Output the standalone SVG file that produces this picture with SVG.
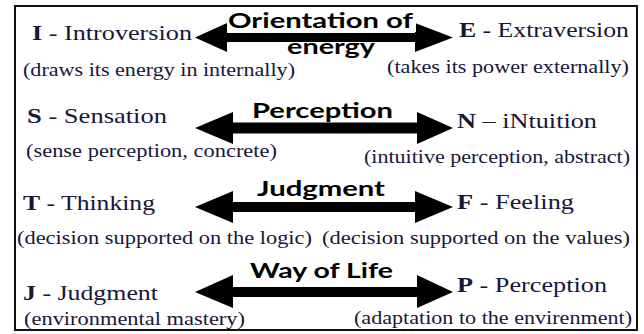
<svg xmlns="http://www.w3.org/2000/svg" width="644" height="334" viewBox="0 0 644 334">
  <style>
    .main { font-family: "Liberation Serif", "Times New Roman", serif; font-size: 22px; fill: #17173a; }
    .sub { font-family: "Liberation Serif", "Times New Roman", serif; font-size: 18px; fill: #17173a; }
    .ini { font-weight: bold; }
    .lbl { font-family: Lato, "Open Sans", "Liberation Sans", sans-serif; font-weight: 700; font-size: 21px; fill: #000; }
    .arrow { fill: #000; }
  </style>
  <rect x="0" y="0" width="644" height="334" fill="#fff"/>
  <rect x="15" y="6" width="622" height="324" fill="#fff" stroke="#111" stroke-width="2"/>

  <!-- double-headed connectors with their labels -->
  <g id="connectors">
    <polygon class="arrow" points="195,37.5 227,23 227,33 415,33 415,23 453,37.5 415,52 415,42 227,42 227,52"/>
    <rect x="227" y="12" width="189" height="20" fill="#fff"/>
    <text class="lbl" x="228" y="28" textLength="185" lengthAdjust="spacingAndGlyphs">Orientation of</text>
    <text class="lbl" x="287" y="54" textLength="88" lengthAdjust="spacingAndGlyphs">energy</text>

    <polygon class="arrow" points="195,128 233,112 233,122.5 417,122.5 417,112 453,128 417,144 417,133.5 233,133.5 233,144"/>
    <text class="lbl" x="252" y="118" textLength="141" lengthAdjust="spacingAndGlyphs">Perception</text>

    <polygon class="arrow" points="195,207 233,191 233,202 415,202 415,191 453,207 415,223 415,212 233,212 233,223"/>
    <text class="lbl" x="257" y="196" textLength="128" lengthAdjust="spacingAndGlyphs">Judgment</text>

    <polygon class="arrow" points="195,292 233,275 233,287 417,287 417,275 453,292 417,308 417,297 233,297 233,308"/>
    <text class="lbl" x="250" y="278" textLength="143" lengthAdjust="spacingAndGlyphs">Way of Life</text>
  </g>

  <g id="introversion">
    <text class="main" x="32" y="40" textLength="160" lengthAdjust="spacingAndGlyphs"><tspan class="ini">I</tspan> - Introversion</text>
    <text class="sub" x="23" y="76" textLength="272" lengthAdjust="spacingAndGlyphs">(draws its energy in internally)</text>
  </g>
  <g id="extraversion">
    <text class="main" x="459" y="37" textLength="170" lengthAdjust="spacingAndGlyphs"><tspan class="ini">E</tspan> - Extraversion</text>
    <text class="sub" x="387" y="73" textLength="242" lengthAdjust="spacingAndGlyphs">(takes its power externally)</text>
  </g>
  <g id="sensation">
    <text class="main" x="27" y="123" textLength="140" lengthAdjust="spacingAndGlyphs"><tspan class="ini">S</tspan> - Sensation</text>
    <text class="sub" x="26" y="157" textLength="251" lengthAdjust="spacingAndGlyphs">(sense perception, concrete)</text>
  </g>
  <g id="intuition">
    <text class="main" x="457" y="128" textLength="140" lengthAdjust="spacingAndGlyphs"><tspan class="ini">N</tspan> – iNtuition</text>
    <text class="sub" x="364" y="163" textLength="266" lengthAdjust="spacingAndGlyphs">(intuitive perception, abstract)</text>
  </g>
  <g id="thinking">
    <text class="main" x="23" y="210" textLength="132" lengthAdjust="spacingAndGlyphs"><tspan class="ini">T</tspan> - Thinking</text>
    <text class="sub" x="17" y="244" textLength="295" lengthAdjust="spacingAndGlyphs">(decision supported on the logic)</text>
  </g>
  <g id="feeling">
    <text class="main" x="457" y="209" textLength="117" lengthAdjust="spacingAndGlyphs"><tspan class="ini">F</tspan> - Feeling</text>
    <text class="sub" x="322" y="244" textLength="308" lengthAdjust="spacingAndGlyphs">(decision supported on the values)</text>
  </g>
  <g id="judgment">
    <text class="main" x="23" y="300" textLength="135" lengthAdjust="spacingAndGlyphs"><tspan class="ini">J</tspan> - Judgment</text>
    <text class="sub" x="24" y="325" textLength="221" lengthAdjust="spacingAndGlyphs">(environmental mastery)</text>
  </g>
  <g id="perception">
    <text class="main" x="457" y="292" textLength="150" lengthAdjust="spacingAndGlyphs"><tspan class="ini">P</tspan> - Perception</text>
    <text class="sub" x="354" y="324" textLength="278" lengthAdjust="spacingAndGlyphs">(adaptation to the envirenment)</text>
  </g>
</svg>
